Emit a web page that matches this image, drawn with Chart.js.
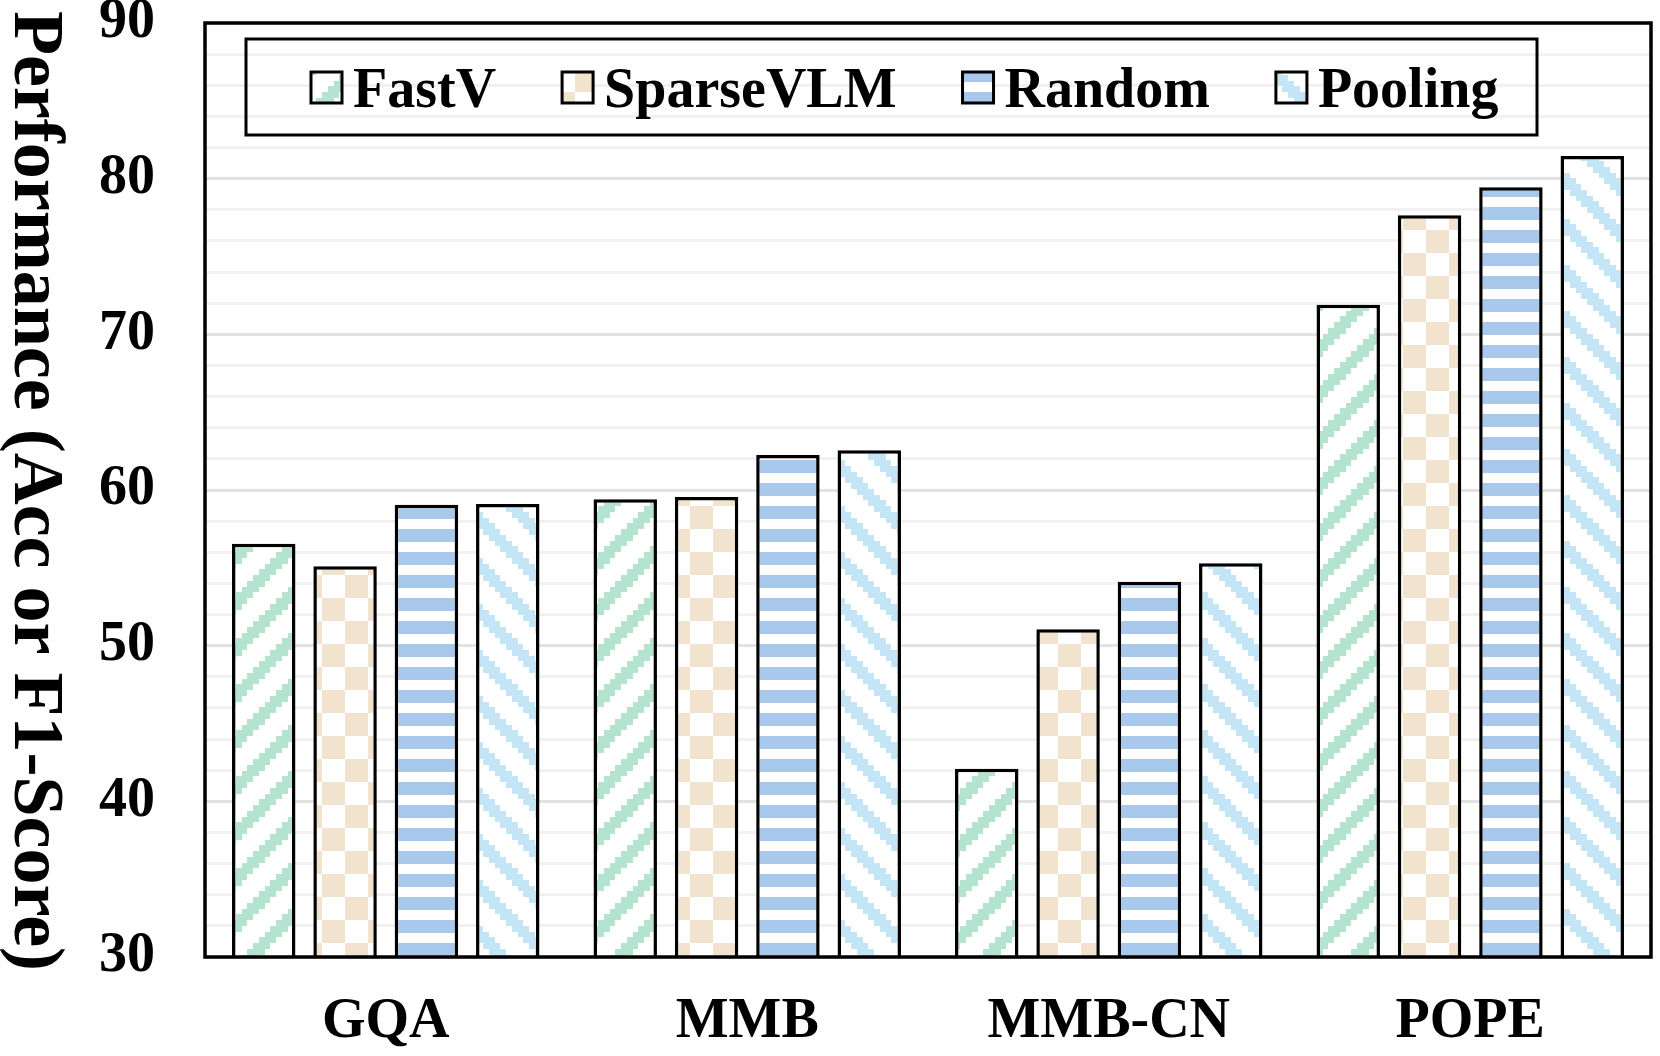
<!DOCTYPE html>
<html>
<head>
<meta charset="utf-8">
<script src="https://cdn.jsdelivr.net/npm/chart.js@4.4.0/dist/chart.umd.min.js"></script>
<style>
    html, body { margin: 0; padding: 0; background: #fff; overflow: hidden; }
    #wrap { width: 1660px; height: 1056px; position: relative; }
</style>
</head>
<body>
<div id="wrap"><canvas id="graficoBarras"></canvas></div>
<script>
const categorias = ['GQA', 'MMB', 'MMB-CN', 'POPE'];
const fastv = [56.55, 59.4, 42.1, 71.9];
const sparsevlm = [55.1, 59.55, 51.05, 77.65];
const random = [59.05, 62.25, 54.1, 79.45];
const pooling = [59.1, 62.55, 55.3, 81.45];
const yTicks = [30, 40, 50, 60, 70, 80, 90];
const yTitulo = 'Performance (Acc or F1-Score)';

Chart.defaults.font.family = '"Liberation Serif", "Times New Roman", serif';
Chart.defaults.color = '#000';

const canvas = document.getElementById('graficoBarras');
const ctx = canvas.getContext('2d');

// pixel-art style pattern tiles, like the office chart fills
function patron(color, pinta) {
    const size = 46;
    const c = document.createElement('canvas');
    c.width = size;
    c.height = size;
    const g = c.getContext('2d');
    g.fillStyle = '#fff';
    g.fillRect(0, 0, size, size);
    g.fillStyle = color;
    pinta(g, size);
    return ctx.createPattern(c, 'repeat');
}

function celdas(on) {
    return (g, size) => {
        const e = i => Math.round(i * size / 8);
        for (let i = 0; i < 8; i++) {
            for (let j = 0; j < 8; j++) {
                if (on(i, j)) g.fillRect(e(i), e(j), e(i + 1) - e(i), e(j + 1) - e(j));
            }
        }
    };
}

const patFastV = patron('#b4e4cf', celdas((i, j) => (i + j) % 8 < 3));
const patSparse = patron('#f2e3ce', celdas((i, j) => ((i >> 2) + (j >> 2)) % 2 === 0));
const patRandom = patron('#a8c9ec', (g, size) => {
    g.fillRect(0, 0, size, 13);
    g.fillRect(0, 23, size, 13);
});
const patPooling = patron('#c4e5f5', celdas((i, j) => ((i - j) % 8 + 8) % 8 < 3));

//marco negro alrededor del area del grafico
const marco = {
    id: 'marco',
    afterDatasetsDraw(chart) {
        const a = chart.chartArea;
        const c = chart.ctx;
        c.save();
        c.lineWidth = 3.5;
        c.strokeStyle = '#000';
        c.strokeRect(a.left, a.top, a.right - a.left, a.bottom - a.top);
        c.restore();
    }
};

//leyenda con caja, dibujada a mano
const leyenda = {
    id: 'leyenda',
    afterDraw(chart) {
        const c = chart.ctx;
        c.save();
        c.lineWidth = 3;
        c.strokeStyle = '#000';
        c.strokeRect(246, 39, 1291, 96);
        c.font = 'bold 56px "Liberation Serif"';
        c.textBaseline = 'alphabetic';
        c.textAlign = 'left';
        let x = 311;
        chart.data.datasets.forEach(ds => {
            c.fillStyle = ds.backgroundColor;
            c.fillRect(x, 72, 31, 31);
            c.strokeRect(x, 72, 31, 31);
            c.fillStyle = '#000';
            c.fillText(ds.label, x + 42, 107);
            x += 42 + c.measureText(ds.label).width + 66;
        });
        c.restore();
    }
};

//titulo del eje y, girado en sentido horario
const tituloY = {
    id: 'tituloY',
    afterDraw(chart) {
        const c = chart.ctx;
        c.save();
        c.translate(15, 491);
        c.rotate(Math.PI / 2);
        c.font = 'bold 72px "Liberation Serif"';
        c.fillStyle = '#000';
        c.textAlign = 'center';
        c.textBaseline = 'alphabetic';
        c.fillText(yTitulo, 0, 0);
        c.restore();
    }
};

const bar = {
    borderColor: '#000',
    borderWidth: 3.5,
    borderSkipped: false,
    barPercentage: 0.78,
    categoryPercentage: 0.9
};

new Chart(ctx, {
    type: 'bar',
    data: {
        labels: categorias,
        datasets: [
            { label: 'FastV', data: fastv, backgroundColor: patFastV, ...bar },
            { label: 'SparseVLM', data: sparsevlm, backgroundColor: patSparse, ...bar },
            { label: 'Random', data: random, backgroundColor: patRandom, ...bar },
            { label: 'Pooling', data: pooling, backgroundColor: patPooling, ...bar }
        ]
    },
    options: {
        responsive: true,
        maintainAspectRatio: false,
        devicePixelRatio: 1,
        animation: false,
        layout: { padding: { left: 90, top: 23, right: 9, bottom: 0 } },
        plugins: {
            legend: { display: false },
            tooltip: { enabled: false }
        },
        scales: {
            x: {
                grid: { display: false, drawTicks: false },
                border: { display: false },
                ticks: {
                    color: '#000',
                    padding: 32,
                    maxRotation: 0,
                    font: { size: 56, weight: 'bold' }
                },
                afterFit: s => {
                    s.height = 99;
                    s.paddingLeft = 0;
                    s.paddingRight = 0;
                }
            },
            y: {
                min: 30,
                max: 90,
                border: { display: false },
                grid: {
                    drawTicks: false,
                    lineWidth: 3,
                    color: c => (c.tick && c.tick.value % 10 === 0) ? '#e3e3e3' : '#f1f1f1'
                },
                ticks: {
                    stepSize: 2,
                    autoSkip: false,
                    padding: 50,
                    color: '#000',
                    font: { size: 56, weight: 'bold' },
                    callback: v => yTicks.includes(v) ? v : ''
                },
                afterFit: s => {
                    s.width = 115;
                    s.paddingTop = 0;
                    s.paddingBottom = 0;
                }
            }
        }
    },
    plugins: [marco, leyenda, tituloY]
});
</script>
</body>
</html>
